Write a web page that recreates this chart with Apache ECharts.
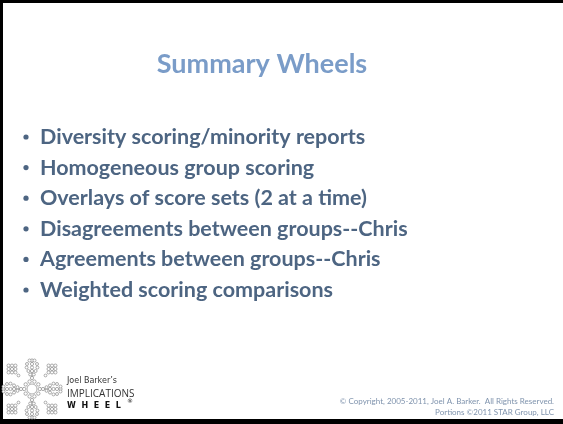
<!DOCTYPE html>
<html>
<head>
<meta charset="utf-8">
<script src="https://cdn.jsdelivr.net/npm/echarts@6/dist/echarts.min.js"></script>
<style>
  html, body { margin: 0; padding: 0; background: #fff; }
  #main { width: 563px; height: 424px; }
</style>
</head>
<body>
<div id="main"></div>
<script>
var slideTitle = 'Summary Wheels';
var bulletItems = [
    'Diversity scoring/minority reports',
    'Homogeneous group scoring',
    'Overlays of score sets (2 at a time)',
    'Disagreements between groups--Chris',
    'Agreements between groups--Chris',
    'Weighted scoring comparisons'
];
var logoLines = ['Joel Barker\u2019s', 'IMPLICATIONS', 'W  H  E  E  L'];
var copyrightLines = [
    '\u00a9 Copyright, 2005-2011, Joel A. Barker.  All Rights Reserved.',
    'Portions \u00a92011 STAR Group, LLC'
];

var chart = echarts.init(document.getElementById('main'));

var els = [];

// frame
els.push({ type: 'rect', shape: { x: 0, y: 0, width: 563, height: 3 }, style: { fill: '#000' } });
els.push({ type: 'rect', shape: { x: 0, y: 0, width: 3, height: 424 }, style: { fill: '#000' } });
els.push({ type: 'rect', shape: { x: 0, y: 419, width: 563, height: 5 }, style: { fill: '#000' } });

// title
els.push({
    type: 'text', x: 262, y: 64,
    style: { text: slideTitle, fill: '#7a9cc8', font: 'bold 27px Lato', align: 'center', verticalAlign: 'middle' }
});

// bullets
var rowTop = 137, rowStep = 30.6;
bulletItems.forEach(function (txt, i) {
    var y = rowTop + i * rowStep;
    els.push({ type: 'circle', shape: { cx: 26, cy: y, r: 2.6 }, style: { fill: '#4d6582' } });
    els.push({
        type: 'text', x: 40, y: y,
        style: { text: txt, fill: '#4d6582', font: 'bold 21.5px Lato', verticalAlign: 'middle' }
    });
});

// logo wheel
var cx = 32, cy = 389;
var ring = { stroke: '#8a8a8a', fill: '#fff', lineWidth: 0.7 };
function dot(x, y, r) {
    els.push({ type: 'circle', shape: { cx: x, cy: y, r: r }, style: ring });
}
dot(cx, cy, 5);
for (var k = 0; k < 10; k++) {
    var a = k * Math.PI / 5;
    dot(cx + Math.cos(a) * 7.8, cy + Math.sin(a) * 7.8, 1.7);
}
// four arms
for (var d = 0; d < 4; d++) {
    var ang = d * Math.PI / 2;
    var ux = Math.cos(ang), uy = Math.sin(ang), vx = -uy, vy = ux;
    for (var s = 0; s < 6; s++) {
        var dist = 11 + s * 3.5;
        var spread = s < 4 ? s * 1.8 : (6 - s) * 2.5;
        dot(cx + ux * dist, cy + uy * dist, 1.6);
        if (spread > 0) {
            dot(cx + ux * dist + vx * spread, cy + uy * dist + vy * spread, 1.5);
            dot(cx + ux * dist - vx * spread, cy + uy * dist - vy * spread, 1.5);
        }
    }
}
// corner clusters
[[-1, -1], [1, -1], [-1, 1], [1, 1]].forEach(function (c) {
    var bx = cx + c[0] * 20, by = cy + c[1] * 20;
    for (var i = -1; i <= 1; i++) {
        for (var j = -1; j <= 1; j++) {
            dot(bx + i * 3.4, by + j * 3.4, 1.6);
        }
    }
    dot(bx - c[0] * 6.5, by - c[1] * 6.5, 1.4);
});

// logo texts
els.push({ type: 'text', x: 67, y: 381, style: { text: logoLines[0], fill: '#333', font: '8px "DejaVu Sans"', verticalAlign: 'middle' } });
els.push({ type: 'text', x: 67, y: 394, style: { text: logoLines[1], fill: '#333', font: '10px "Open Sans"', verticalAlign: 'middle' } });
els.push({ type: 'text', x: 67, y: 406, style: { text: logoLines[2], fill: '#111', font: 'bold 8px "DejaVu Sans"', verticalAlign: 'middle' } });
els.push({ type: 'text', x: 127, y: 401, style: { text: '\u00ae', fill: '#111', font: '6px "DejaVu Sans"', verticalAlign: 'middle' } });

// copyright
copyrightLines.forEach(function (txt, i) {
    els.push({
        type: 'text', x: 554, y: 401 + i * 11,
        style: { text: txt, fill: '#7f93ad', font: '8px Lato', align: 'right', verticalAlign: 'middle' }
    });
});

chart.setOption({
    backgroundColor: '#fff',
    graphic: { elements: els }
});
window.addEventListener('resize', chart.resize);
</script>
</body>
</html>
